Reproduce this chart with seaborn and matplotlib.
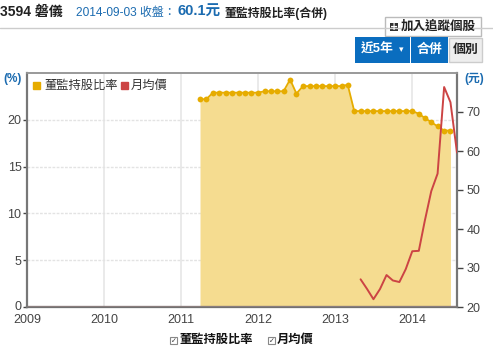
import numpy as np
import pandas as pd
import matplotlib
matplotlib.use("Agg")
import matplotlib.pyplot as plt
import matplotlib.dates as mdates
from matplotlib.patches import Rectangle
from matplotlib.transforms import ScaledTranslation
import seaborn as sns

# ---- data ----
ratio_start = "2011-04-01"
ratio_values = [22.2, 22.2,
                22.9, 22.9, 22.9, 22.9, 22.9, 22.9, 22.9, 22.9,
                23.05, 23.05, 23.05, 23.05,
                24.3, 22.8,
                23.6, 23.6, 23.6, 23.6, 23.6, 23.6, 23.6,
                23.75,
                20.93, 20.93, 20.93, 20.93, 20.93, 20.93, 20.93, 20.93, 20.93, 20.93,
                20.65, 20.2, 19.75, 19.3, 18.85, 18.85]
price_start = "2013-05-01"
price_values = [27.1, 24.6, 22.0, 24.6, 28.2, 26.8, 26.4, 29.7,
                34.3, 34.4, 42.0, 49.7, 54.2, 76.4, 72.5, 59.6]
year_ticks = ["2009", "2010", "2011", "2012", "2013", "2014"]
left_ticks = [0, 5, 10, 15, 20]
right_ticks = [20, 30, 40, 50, 60, 70]
series_names = ["董監持股比率", "月均價"]

ratio_df = pd.DataFrame({
    "date": pd.date_range(ratio_start, periods=len(ratio_values), freq="MS"),
    "ratio": ratio_values})
price_df = pd.DataFrame({
    "date": pd.date_range(price_start, periods=len(price_values), freq="MS"),
    "price": price_values})

sns.set_theme(style="white")
plt.rcParams["font.family"] = ["Liberation Sans", "Noto Sans CJK TC", "DejaVu Sans"]

W, H = 493, 347
fig = plt.figure(figsize=(W / 100, H / 100), dpi=100)
fig.patch.set_facecolor("white")

def px(x, y):
    return x / W, 1 - y / H

ax = fig.add_axes([27 / W, 40 / H, 430 / W, 234 / H])
ax2 = ax.twinx()

gold = "#E6AC00"
fill = "#F5DC90"
red = "#CC4444"

ax.fill_between(ratio_df["date"], 0, ratio_df["ratio"], color=fill, lw=0, zorder=1)
sns.lineplot(data=ratio_df, x="date", y="ratio", ax=ax, color=gold, lw=1.3,
             marker="o", markersize=4.2, markeredgewidth=0, zorder=3)
sns.lineplot(data=price_df, x="date", y="price", ax=ax2, color=red, lw=1.4, zorder=4)

xmin, xmax = pd.Timestamp("2009-01-01"), pd.Timestamp("2014-08-01")
ax.set_xlim(xmin, xmax)
ax.set_ylim(0, 25)
ax2.set_ylim(20, 80)
ax.axhline(0, color="#E8A0A0", lw=1.5, zorder=5)

ax.set_xticks([pd.Timestamp(y + "-01-01") for y in year_ticks])
ax.set_xticklabels(year_ticks)
ax.set_yticks(left_ticks)
ax2.set_yticks(right_ticks)

ax.grid(True, which="major", axis="x", color="#e6e6e6", lw=1.2, zorder=0)
ax.grid(True, which="major", axis="y", color="#e3e3e3", lw=1, ls=(0, (2, 1)), zorder=0)
ax.set_axisbelow(True)
ax.set_xlabel("")
ax.set_ylabel("")
ax2.set_xlabel("")
ax2.set_ylabel("")

for a in (ax, ax2):
    for s in a.spines.values():
        s.set_color("#777777")
        s.set_linewidth(1.2)
ax2.spines["top"].set_color("#999999")
ax.spines["top"].set_color("#999999")
ax.spines["bottom"].set_color("#555555")
ax.spines["bottom"].set_linewidth(1.6)
ax.spines["left"].set_linewidth(1.6)
ax2.spines["right"].set_linewidth(1.6)

ax.tick_params(axis="x", labelsize=9, colors="#444444", length=0, pad=5)
ax.tick_params(axis="y", labelsize=9, colors="#444444", length=3, width=1, pad=1, direction="out")
ax2.tick_params(axis="y", labelsize=9, colors="#444444", length=4, width=1, pad=3, direction="out")
# nudge the "0" label up a touch so it does not collide with "2009"
zero_lbl = ax.get_yticklabels()[0]
zero_lbl.set_transform(zero_lbl.get_transform() + ScaledTranslation(0, 2 / 100, fig.dpi_scale_trans))

# axis unit labels
fig.text(*px(13, 79), "(%)", color="#1b6bb0", fontsize=8.5, fontweight="bold",
         ha="center", va="center")
fig.text(*px(474, 79), "(元)", color="#1b6bb0", fontsize=8.5, fontweight="bold",
         ha="center", va="center")

# inner legend
fig.patches.append(Rectangle(px(33, 89), 7 / W, 7 / H, color="#E6AC00",
                             transform=fig.transFigure, figure=fig))
fig.text(*px(44, 85.5), series_names[0], fontsize=8.8, color="#333333", va="center")
fig.patches.append(Rectangle(px(121, 89), 7 / W, 7 / H, color="#CC4444",
                             transform=fig.transFigure, figure=fig))
fig.text(*px(131, 85.5), series_names[1], fontsize=8.8, color="#333333", va="center")

# bottom legend
fig.patches.append(Rectangle(px(170, 344), 7 / W, 7 / H, facecolor="white",
                             edgecolor="#888888", lw=0.8, transform=fig.transFigure, figure=fig))
fig.text(*px(173.5, 340.5), "✓", fontsize=5, color="#333333", va="center", ha="center",
         family=["DejaVu Sans"])
fig.text(*px(179, 340), series_names[0], fontsize=8.8, color="#111111",
         fontweight="bold", va="center")
fig.patches.append(Rectangle(px(268, 344), 7 / W, 7 / H, facecolor="white",
                             edgecolor="#888888", lw=0.8, transform=fig.transFigure, figure=fig))
fig.text(*px(271.5, 340.5), "✓", fontsize=5, color="#333333", va="center", ha="center",
         family=["DejaVu Sans"])
fig.text(*px(277, 340), series_names[1], fontsize=8.8, color="#111111",
         fontweight="bold", va="center")

# header
fig.text(*px(0, 12), "3594 磐儀", fontsize=10, fontweight="bold", color="#222222", va="center")
fig.text(*px(76, 13), "2014-09-03 收盤：", fontsize=8.6, color="#1b6bb0", va="center")
fig.text(*px(178, 12), "60.1元", fontsize=10.5, fontweight="bold", color="#1b6bb0", va="center")
fig.text(*px(224, 13), "董監持股比率(合併)", fontsize=8.6, fontweight="bold",
         color="#222222", va="center")
fig.add_artist(plt.Line2D([0, 1], [1 - 28 / H, 1 - 28 / H], color="#cccccc", lw=1,
                          transform=fig.transFigure))

# tracking button
fig.patches.append(Rectangle(px(385, 36), 96 / W, 19 / H, facecolor="white",
                             edgecolor="#bbbbbb", lw=1, transform=fig.transFigure, figure=fig))
fig.patches.append(Rectangle(px(390, 31), 8 / W, 8 / H, facecolor="#333333",
                             edgecolor="none", transform=fig.transFigure, figure=fig))
fig.text(*px(394, 27), "+", fontsize=7, color="white", fontweight="bold",
         ha="center", va="center", family=["DejaVu Sans"])
fig.text(*px(401, 27), "加入追蹤個股", fontsize=9, fontweight="bold", color="#222222",
         va="center")

# period / type buttons
fig.patches.append(Rectangle(px(355, 63), 55 / W, 26 / H, facecolor="#0a6dbf",
                             edgecolor="none", transform=fig.transFigure, figure=fig))
fig.text(*px(361, 50), "近5年", fontsize=9.3, fontweight="bold", color="white", va="center")
fig.text(*px(401, 50), "▾", fontsize=6.5, color="white", va="center", ha="center",
         family=["DejaVu Sans"])
fig.patches.append(Rectangle(px(411, 63), 37 / W, 26 / H, facecolor="#0a6dbf",
                             edgecolor="none", transform=fig.transFigure, figure=fig))
fig.text(*px(429.5, 50), "合併", fontsize=9.3, fontweight="bold", color="white",
         va="center", ha="center")
fig.patches.append(Rectangle(px(449, 62), 33 / W, 24 / H, facecolor="#eeeeee",
                             edgecolor="#cccccc", lw=1, transform=fig.transFigure, figure=fig))
fig.text(*px(465.5, 50), "個別", fontsize=9.3, fontweight="bold", color="#222222",
         va="center", ha="center")

fig.savefig("out.png", dpi=100, facecolor="white")
